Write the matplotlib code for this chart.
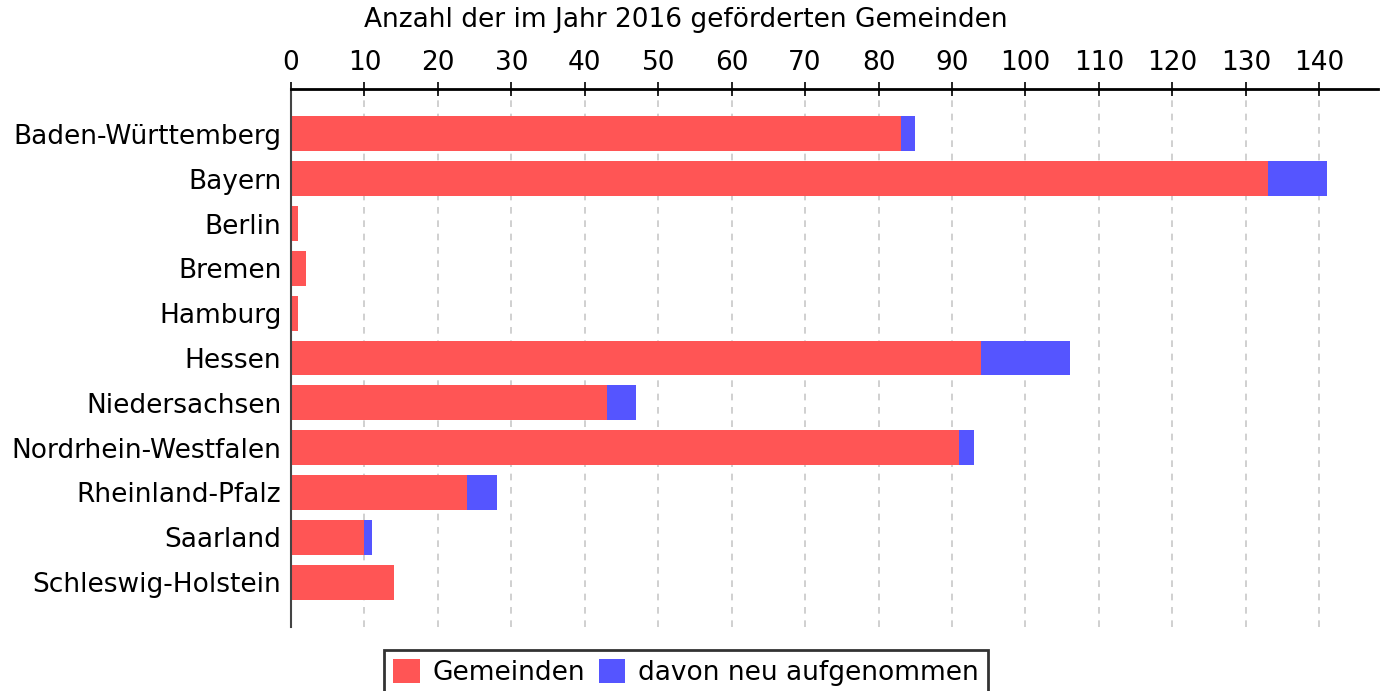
import numpy as np
import matplotlib.pyplot as plt

laender = ["Baden-Württemberg", "Bayern", "Berlin", "Bremen", "Hamburg", "Hessen",
           "Niedersachsen", "Nordrhein-Westfalen", "Rheinland-Pfalz", "Saarland",
           "Schleswig-Holstein"]
gemeinden = [83, 133, 1, 2, 1, 94, 43, 91, 24, 10, 14]
neu = [2, 8, 0, 0, 0, 12, 4, 2, 4, 1, 0]
xticks = list(range(0, 150, 10))

red = "#ff5555"
blue = "#5555ff"

fig = plt.figure(figsize=(13.88, 6.91), dpi=100)
ax = fig.add_axes([291 / 1388, 1 - 627 / 691, (1378 - 291) / 1388, (627 - 89) / 691])

y = np.arange(len(laender))
ax.barh(y, gemeinden, height=0.78, color=red, label="Gemeinden", zorder=2)
ax.barh(y, neu, left=gemeinden, height=0.78, color=blue, label="davon neu aufgenommen",
        zorder=2)

ax.set_xlim(0, 148)
ax.set_ylim(11, -1)
ax.set_yticks(y)
ax.set_yticklabels(laender, fontsize=19)
ax.tick_params(axis="y", length=0, pad=7)

ax.xaxis.tick_top()
ax.set_xticks(xticks)
ax.tick_params(axis="x", labelsize=19, direction="inout", length=10, width=1.2, pad=4)
ax.grid(axis="x", color="#c8c8c8", linestyle=(0, (4, 4)), linewidth=1.2, zorder=0)

for s in ["right", "bottom"]:
    ax.spines[s].set_visible(False)
ax.spines["top"].set_linewidth(2)
ax.spines["left"].set_color("#444444")
ax.spines["left"].set_linewidth(1.5)

fig.text(686 / 1388, 1 - 20 / 691, "Anzahl der im Jahr 2016 geförderten Gemeinden",
         ha="center", va="center", fontsize=19)

leg = fig.legend(loc="lower center", bbox_to_anchor=(686 / 1388, -0.018), ncol=2,
                 fontsize=19, frameon=True, fancybox=False, handlelength=1,
                 handleheight=1, handletextpad=0.5, columnspacing=0.5,
                 borderpad=0.35, borderaxespad=0.3)
leg.get_frame().set_edgecolor("black")
leg.get_frame().set_linewidth(2)

fig.savefig("out.png", dpi=100)
